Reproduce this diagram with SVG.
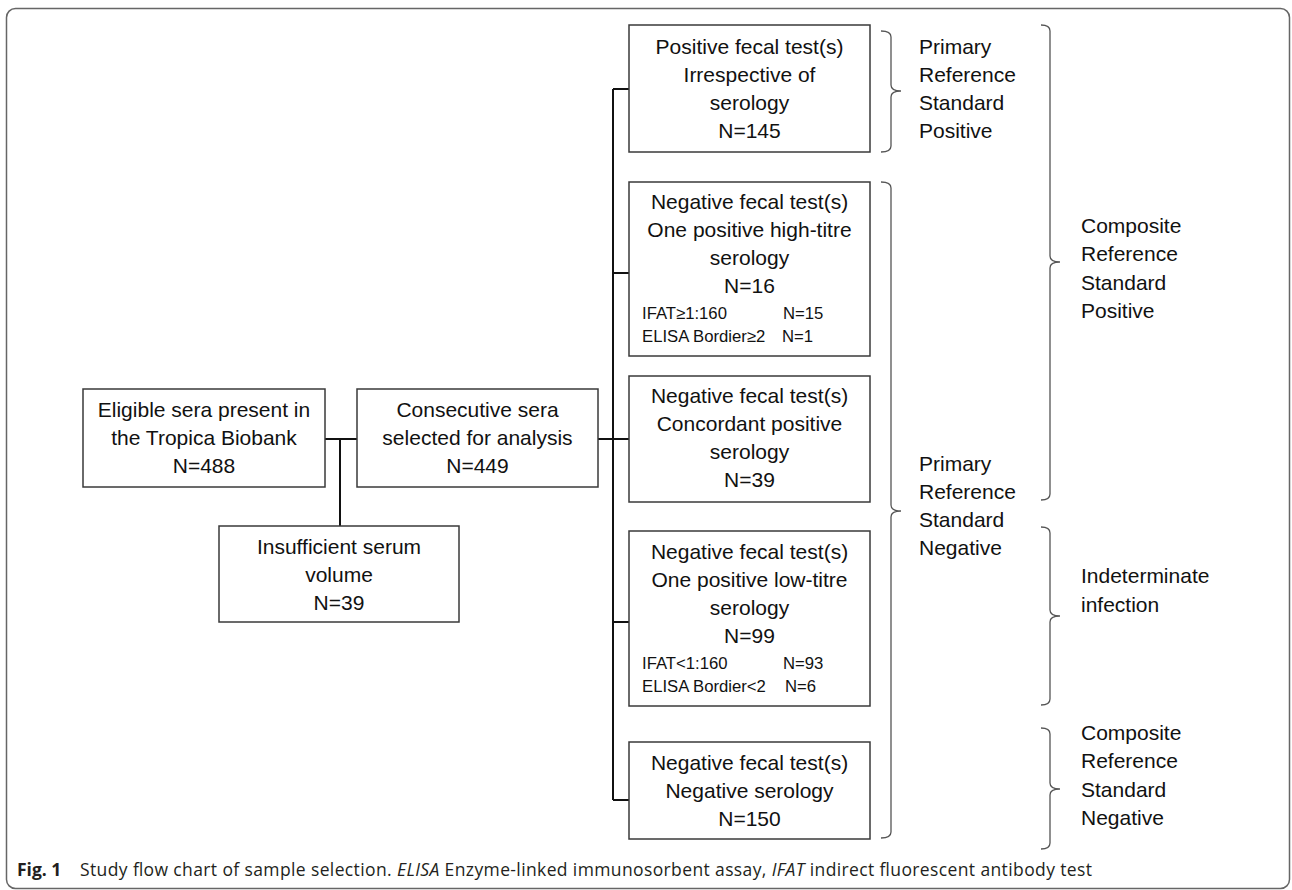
<svg xmlns="http://www.w3.org/2000/svg" width="1292" height="890" viewBox="0 0 1292 890">
<style>
.box{fill:#fff;stroke:#3a3a3a;stroke-width:1.5}
.t{font-family:"Liberation Sans",Arial,sans-serif;font-size:21px;fill:#111;text-anchor:middle}
.l{font-family:"Liberation Sans",Arial,sans-serif;font-size:21px;fill:#111}
.s{font-family:"Liberation Sans",Arial,sans-serif;font-size:16.7px;fill:#111}
.conn{fill:none;stroke:#111;stroke-width:2}
.br{fill:none;stroke:#555;stroke-width:1.3}
.cap{font-family:"Open Sans","Liberation Sans",sans-serif;font-size:17.5px;fill:#231f20}
</style>
<rect x="6.5" y="8.5" width="1283" height="880" rx="9" fill="#fff" stroke="#666" stroke-width="1.5"/>

<g id="connectors">
<path class="conn" d="M325 439H357M340 439V526M598 439H629M613 89V800M613 89H629M613 273H629M613 622H629M613 800H629"/>
</g>

<g id="eligible">
<rect class="box" x="83" y="389" width="242" height="98"/>
<text class="t" x="204" y="417">Eligible sera present in</text>
<text class="t" x="204" y="445">the Tropica Biobank</text>
<text class="t" x="204" y="473">N=488</text>
</g>
<g id="consecutive">
<rect class="box" x="357" y="389" width="241" height="98"/>
<text class="t" x="477.5" y="417">Consecutive sera</text>
<text class="t" x="477.5" y="445">selected for analysis</text>
<text class="t" x="477.5" y="473">N=449</text>
</g>
<g id="insufficient">
<rect class="box" x="219" y="526" width="240" height="96"/>
<text class="t" x="339" y="554">Insufficient serum</text>
<text class="t" x="339" y="582">volume</text>
<text class="t" x="339" y="610">N=39</text>
</g>

<g id="pos-fecal">
<rect class="box" x="629" y="25" width="241" height="127"/>
<text class="t" x="749.5" y="54">Positive fecal test(s)</text>
<text class="t" x="749.5" y="82">Irrespective of</text>
<text class="t" x="749.5" y="110">serology</text>
<text class="t" x="749.5" y="138">N=145</text>
</g>
<g id="neg-high">
<rect class="box" x="629" y="182" width="241" height="174"/>
<text class="t" x="749.5" y="209">Negative fecal test(s)</text>
<text class="t" x="749.5" y="237">One positive high-titre</text>
<text class="t" x="749.5" y="265">serology</text>
<text class="t" x="749.5" y="293">N=16</text>
<text class="s" x="642" y="319">IFAT≥1:160</text>
<text class="s" x="783" y="319">N=15</text>
<text class="s" x="642" y="342">ELISA Bordier≥2</text>
<text class="s" x="782" y="342">N=1</text>
</g>
<g id="neg-concordant">
<rect class="box" x="629" y="376" width="241" height="126"/>
<text class="t" x="749.5" y="403">Negative fecal test(s)</text>
<text class="t" x="749.5" y="431">Concordant positive</text>
<text class="t" x="749.5" y="459">serology</text>
<text class="t" x="749.5" y="487">N=39</text>
</g>
<g id="neg-low">
<rect class="box" x="629" y="531" width="241" height="175"/>
<text class="t" x="749.5" y="559">Negative fecal test(s)</text>
<text class="t" x="749.5" y="587">One positive low-titre</text>
<text class="t" x="749.5" y="615">serology</text>
<text class="t" x="749.5" y="643">N=99</text>
<text class="s" x="642" y="669">IFAT&lt;1:160</text>
<text class="s" x="783" y="669">N=93</text>
<text class="s" x="642" y="692">ELISA Bordier&lt;2</text>
<text class="s" x="785" y="692">N=6</text>
</g>
<g id="neg-neg">
<rect class="box" x="629" y="742" width="241" height="97"/>
<text class="t" x="749.5" y="770">Negative fecal test(s)</text>
<text class="t" x="749.5" y="798">Negative serology</text>
<text class="t" x="749.5" y="826">N=150</text>
</g>

<g id="brackets">
<path class="br" d="M881 31Q891 31 891 37V85Q891 91 901 91Q891 91 891 97V146Q891 152 881 152"/>
<path class="br" d="M881 182Q891 182 891 188V505Q891 511 901 511Q891 511 891 517V832Q891 838 881 838"/>
<path class="br" d="M1041 25Q1050 25 1050 31V256Q1050 262 1060 262Q1050 262 1050 268V494Q1050 500 1041 500"/>
<path class="br" d="M1041 527Q1050 527 1050 533V610Q1050 616 1060 616Q1050 616 1050 622V699Q1050 705 1041 705"/>
<path class="br" d="M1041 728Q1050 728 1050 734V783Q1050 789 1060 789Q1050 789 1050 795V843Q1050 849 1041 849"/>
</g>

<g id="label-prs-pos">
<text class="l" x="919" y="54">Primary</text>
<text class="l" x="919" y="82">Reference</text>
<text class="l" x="919" y="110">Standard</text>
<text class="l" x="919" y="138">Positive</text>
</g>
<g id="label-prs-neg">
<text class="l" x="919" y="471">Primary</text>
<text class="l" x="919" y="499">Reference</text>
<text class="l" x="919" y="527">Standard</text>
<text class="l" x="919" y="555">Negative</text>
</g>
<g id="label-crs-pos">
<text class="l" x="1081" y="233">Composite</text>
<text class="l" x="1081" y="261">Reference</text>
<text class="l" x="1081" y="290">Standard</text>
<text class="l" x="1081" y="318">Positive</text>
</g>
<g id="label-indeterminate">
<text class="l" x="1081" y="583">Indeterminate</text>
<text class="l" x="1081" y="612">infection</text>
</g>
<g id="label-crs-neg">
<text class="l" x="1081" y="740">Composite</text>
<text class="l" x="1081" y="768">Reference</text>
<text class="l" x="1081" y="797">Standard</text>
<text class="l" x="1081" y="825">Negative</text>
</g>

<g id="caption">
<text class="cap" x="17" y="876" font-weight="bold">Fig. 1</text>
<text class="cap" x="80" y="876" textLength="1012" lengthAdjust="spacing">Study flow chart of sample selection. <tspan font-style="italic">ELISA</tspan> Enzyme-linked immunosorbent assay, <tspan font-style="italic">IFAT</tspan> indirect fluorescent antibody test</text>
</g>
</svg>
